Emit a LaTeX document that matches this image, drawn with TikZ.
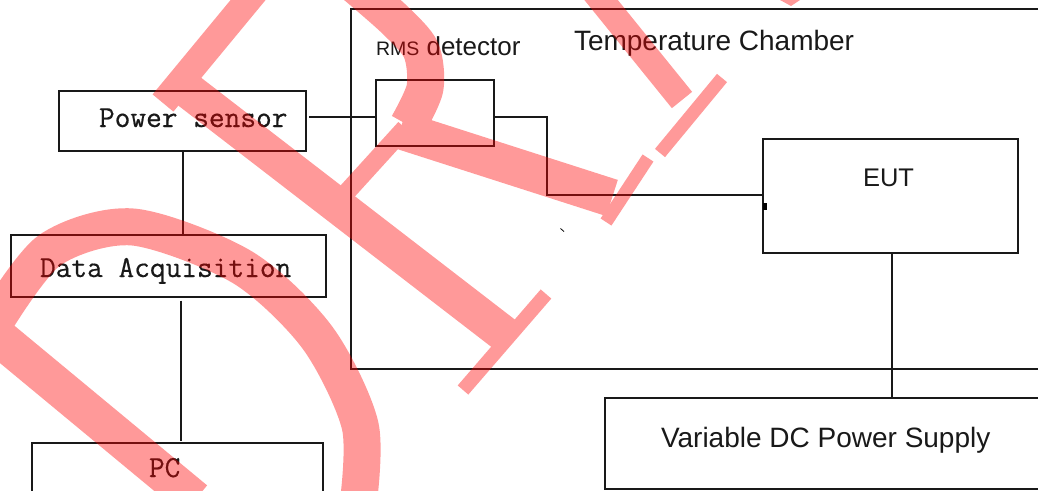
\documentclass[tikz,border=0pt]{standalone}
\usepackage{fontspec}
\setsansfont{Liberation Sans}
\newfontfamily\monofam{Latin Modern Mono}[FakeBold=0.5]
\begin{document}
\begin{tikzpicture}[x=1pt,y=-1pt,
  box/.style={draw=black!90, line width=2pt, inner sep=0pt, outer sep=0pt, anchor=north west},
  wire/.style={draw=black!90, line width=2pt},
  lbl/.style={inner sep=0pt, outer sep=0pt, anchor=base west, text=black!90},
  monofont/.style={font=\monofam\fontsize{30.5}{30.5}\selectfont},
  wm/.style={draw=red, line cap=butt, line join=round}]
\useasboundingbox (0,0) rectangle (1038,490);
\fill[white] (0,0) rectangle (1038,490);
\clip (0,0) rectangle (1038,490);

% boxes
\node[box, minimum width=700pt, minimum height=360pt] (chamber) at (351.3,9.3) {};
\node[box, minimum width=246.8pt, minimum height=60.3pt] (ps) at (58.7,90.7) {};
\node[box, minimum width=118.3pt, minimum height=65.7pt] (rms) at (376,80.3) {};
\node[box, minimum width=254.7pt, minimum height=113.4pt] (eut) at (763.3,139.3) {};
\node[box, minimum width=445pt, minimum height=91pt] (vdc) at (605.3,397.7) {};
\node[box, minimum width=315pt, minimum height=62pt] (daq) at (10.7,235.3) {};
\node[box, minimum width=291pt, minimum height=60pt] (pc) at (32.3,443.3) {};

% labels
\node[lbl, font=\sffamily\fontsize{28}{28}\selectfont] (tctext) at (574,50) {Temperature Chamber};
\node[lbl, font=\sffamily\fontsize{26}{26}\selectfont] (rmstext) at (376,55) {{\fontsize{19.5}{20}\selectfont RMS} detector};
\node[lbl, font=\sffamily\fontsize{25.5}{26}\selectfont] (euttext) at (863,186) {EUT};
\node[lbl, font=\sffamily\fontsize{28}{28}\selectfont] (vdctext) at (661,447) {Variable DC Power Supply};
\node[lbl, monofont] (pstext) at (99,127) {Power sensor};
\node[lbl, monofont] (daqtext) at (40,277) {Data Acquisition};
\node[lbl, monofont] (pctext) at (149,477) {PC};

% connectors
\coordinate (lvlA) at (0,117.3);
\coordinate (bend) at (547.3,195);
\coordinate (xA) at (183,0);
\coordinate (xB) at (181,0);
\coordinate (xC) at (891.7,0);
\coordinate (psout) at ([xshift=3.5pt]ps.east);
\coordinate (daqout) at ([yshift=-3.4pt]daq.south);
\coordinate (pcin) at ([yshift=2.6pt]pc.north);
\draw[wire] (psout |- lvlA) -- (rms.west |- lvlA);
\draw[wire] (rms.east |- lvlA) -| (bend) -- (eut.west |- bend);
\draw[wire] (ps.south -| xA) -- (daq.north -| xA);
\draw[wire] (daqout -| xB) -- (pcin -| xB);
\draw[wire] (eut.south -| xC) -- (vdc.north -| xC);
\fill[black] (763.3,202.7) rectangle (766.8,210);
\draw[black, line width=0.8pt] (560.5,228.5) -- (564,231.5);

% watermark
\begin{scope}[transparency group, opacity=0.4]
\draw[wm, line width=27pt] (258,-12) -- (163,103);
\draw[wm, line width=36pt] (172,78) -- (508,337);
\draw[wm, line width=14pt] (546,294) -- (463,390);
\draw[wm, line width=37pt, line cap=round] plot[smooth] coordinates {(358,505) (360,425) (317,337) (242,267) (133,227) (50,250) (-5,322)};
\draw[wm, line width=38pt] (-15,326) -- (195,500);
\draw[wm, line width=37pt] plot[smooth] coordinates {(355,-15) (395,20) (421,50) (425,88) (408,125)};
\draw[wm, line width=38pt] (400,130) -- (612,198);
\draw[wm, line width=13pt] (648,158) -- (606,222);
\draw[wm, line width=18pt] (405,128) -- (335,205);
\draw[wm, line width=26pt] (593,-10) -- (682,100);
\draw[wm, line width=13pt] (722,78) -- (660,153);
\fill[red] (780,0) -- (800,0) -- (791,6) -- cycle;
\end{scope}
\end{tikzpicture}
\end{document}
